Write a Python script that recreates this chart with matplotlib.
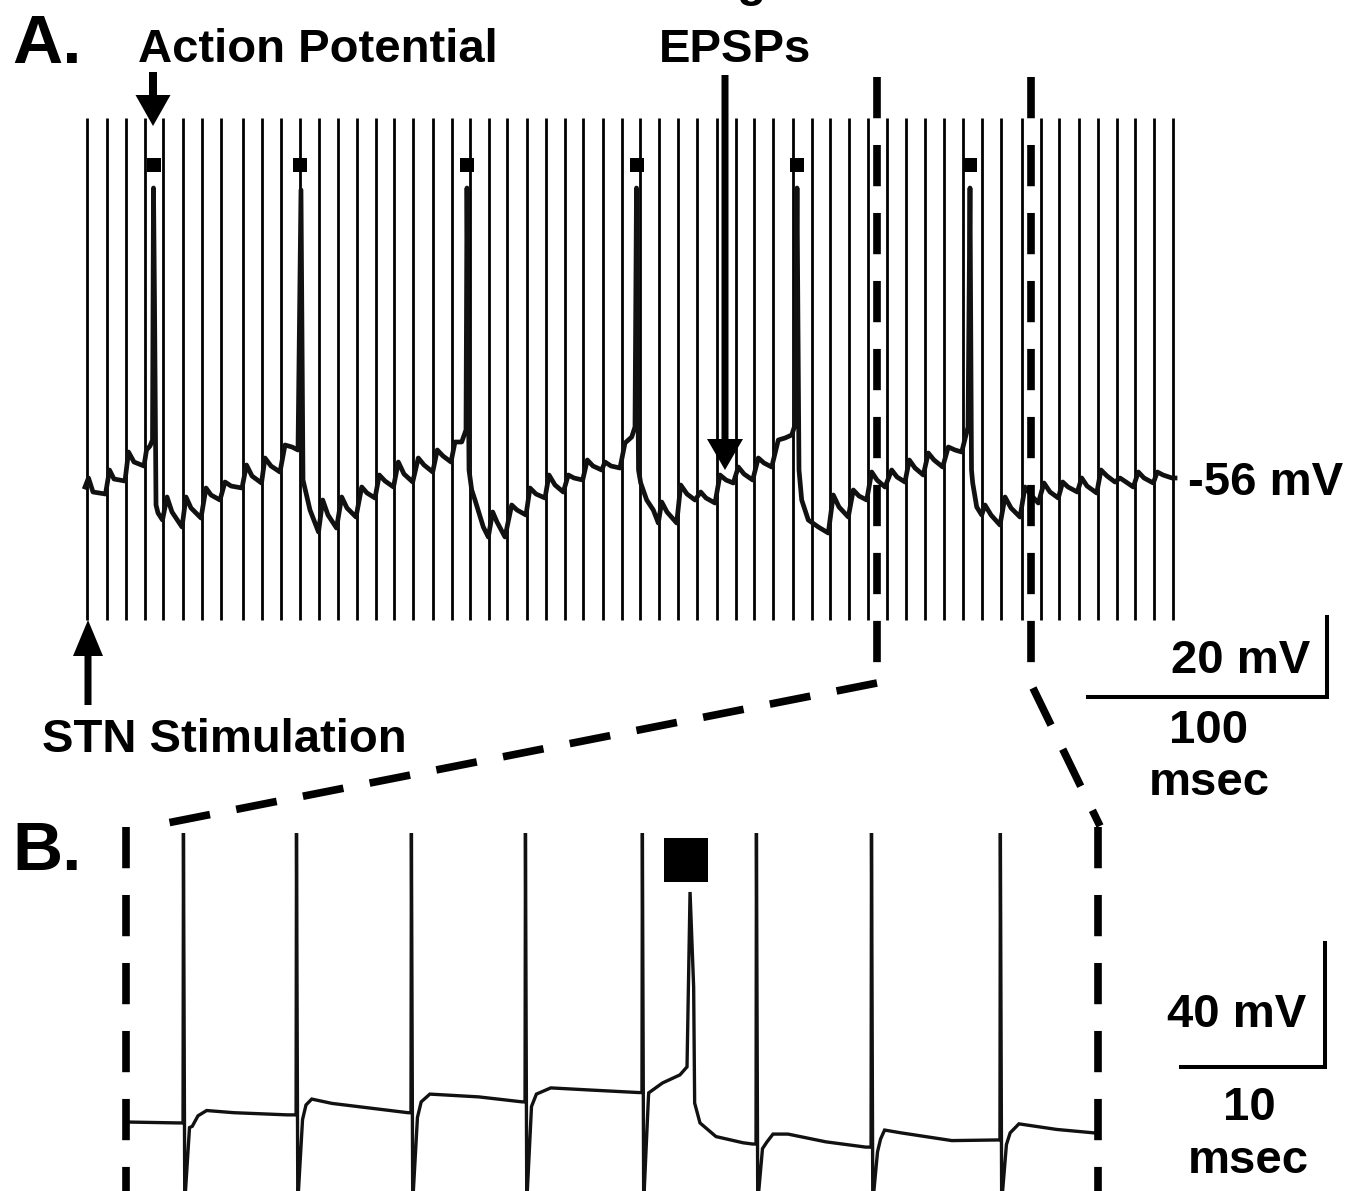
import matplotlib.pyplot as plt
from matplotlib.patches import FancyArrow

plt.rcParams['font.family'] = ['Liberation Sans', 'DejaVu Sans']
plt.rcParams['font.weight'] = 'bold'

W, H = 1358, 1191

# ---------------- Panel A: long recording (ms, mV) ----------------
a_stim_ms = [0.0, 8.1, 16.1, 24.1, 31.8, 39.9, 47.9, 55.8, 65.3, 73.2,
             81.0, 89.0, 96.9, 104.8, 112.7, 120.7, 128.5, 136.4, 144.8, 152.5,
             160.1, 168.1, 175.7, 183.8, 191.8, 199.9, 207.5, 215.9, 223.6, 231.3,
             239.2, 247.3, 255.0, 263.3, 271.3, 279.0, 287.0, 295.4, 303.1, 310.8,
             318.8, 326.8, 334.5, 342.6, 350.5, 358.5, 366.5, 374.5, 382.3, 391.0,
             398.9, 406.7, 414.8, 422.8, 430.7, 438.4, 446.4, 454.4]
a_art_top, a_art_bottom = 34.25, -91.25

# membrane trace (time ms, potential mV)
a_trace = [
    (-0.96, -58.0), (0.50, -55.75), (2.38, -59.25), (7.62, -59.75),
    (9.29, -53.75), (11.17, -56.0), (15.77, -56.5),
    (17.24, -49.25), (19.54, -51.75), (23.72, -52.75),
    (24.77, -48.75), (26.23, -47.75), (27.28, -46.25), (27.70, 16.75),
    (28.12, -11.25), (28.75, -62.5), (29.58, -64.5), (31.47, -66.25),
    (33.35, -60.5), (35.44, -64.25), (39.62, -68.0),
    (41.30, -60.5), (43.39, -63.25), (47.57, -65.75),
    (49.67, -58.25), (51.76, -60.0), (55.52, -61.25),
    (57.62, -56.75), (60.13, -57.75), (64.73, -58.25),
    (66.61, -52.5), (68.91, -55.25), (72.89, -57.0),
    (74.35, -50.75), (76.86, -52.75), (80.63, -54.25),
    (82.72, -47.5), (85.65, -48.0), (88.16, -48.75), (89.41, 16.25),
    (90.25, -56.25), (93.18, -63.75), (95.27, -67.0), (96.74, -69.25),
    (98.49, -61.25), (100.71, -65.0), (104.27, -68.25),
    (106.44, -60.5), (108.66, -63.25), (112.43, -65.5),
    (114.81, -58.0), (117.03, -59.5), (120.38, -60.75),
    (122.18, -55.0), (124.56, -56.5), (128.12, -58.0),
    (130.13, -51.75), (132.51, -54.75), (136.15, -56.75),
    (138.49, -50.75), (140.88, -52.5), (144.52, -54.25),
    (146.44, -48.75), (148.83, -50.25), (152.18, -51.75),
    (153.85, -46.75), (156.65, -46.75), (158.45, -43.75), (158.87, 16.75),
    (159.71, -53.75), (160.84, -58.75), (162.22, -61.25), (165.69, -68.0), (167.78, -70.5),
    (169.62, -64.25), (171.42, -66.75), (174.77, -70.5),
    (177.57, -62.5), (179.79, -63.75), (183.56, -65.0),
    (185.23, -58.25), (187.74, -59.75), (191.51, -60.75),
    (193.18, -55.0), (195.69, -57.5), (199.16, -59.25),
    (201.26, -55.0), (203.64, -55.75), (207.28, -56.25),
    (209.21, -51.25), (211.59, -52.75), (215.23, -53.75),
    (216.61, -51.75), (219.12, -52.75), (222.89, -53.25),
    (224.98, -47.0), (227.78, -45.5), (229.16, -43.0), (229.79, 16.75),
    (230.63, -53.75), (231.55, -57.0), (234.06, -61.25), (236.82, -63.75), (238.91, -67.0),
    (240.34, -61.75), (242.55, -64.25), (246.61, -67.0),
    (248.29, -57.5), (250.92, -59.75), (254.27, -61.25),
    (256.65, -59.25), (258.87, -60.75), (262.64, -62.0),
    (264.73, -55.0), (267.24, -56.25), (270.29, -57.0),
    (272.39, -53.0), (274.77, -54.75), (278.41, -56.25),
    (280.75, -50.75), (283.14, -52.0), (286.36, -53.0),
    (289.12, -46.25), (291.93, -45.75), (294.73, -45.0), (296.11, -42.5), (296.95, 16.75),
    (297.78, -53.75), (298.91, -61.25), (301.67, -66.25), (305.86, -68.0), (310.04, -69.5),
    (312.13, -60.0), (314.52, -63.0), (318.41, -65.5),
    (320.50, -58.75), (322.89, -60.25), (326.11, -61.25),
    (328.20, -54.25), (330.42, -56.25), (333.77, -58.0),
    (336.57, -53.75), (338.79, -55.5), (342.13, -56.75),
    (343.93, -51.25), (346.32, -53.25), (349.79, -55.0),
    (351.88, -49.5), (354.27, -51.25), (357.91, -53.0),
    (360.25, -48.0), (363.06, -48.75), (365.86, -49.25), (368.50, -43.0), (369.33, 16.75),
    (369.96, -53.75), (370.46, -57.0), (372.14, -63.0), (374.23, -65.0),
    (375.61, -62.5), (378.12, -65.0), (381.88, -67.5),
    (383.98, -60.5), (386.49, -63.25), (390.25, -65.5),
    (392.35, -58.0), (394.86, -60.0), (397.91, -62.0),
    (400.30, -57.0), (402.81, -59.25), (406.28, -60.75),
    (408.12, -56.75), (410.34, -58.0), (414.23, -59.25),
    (416.07, -55.75), (418.29, -57.75), (422.35, -59.5),
    (424.15, -53.75), (426.66, -55.25), (430.00, -56.75),
    (432.09, -55.75), (434.61, -56.75), (437.66, -58.0),
    (439.75, -54.25), (442.14, -55.75), (446.03, -57.0),
    (447.70, -54.25), (450.09, -55.0), (453.85, -55.75), (455.11, -55.75),
]
a_spike_ms = [27.7, 89.0, 158.9, 229.8, 297.0, 369.3]
a_marker_mv = 22.5
a_rest_mv = -56
zoom_window_ms = [330.4, 394.9]

# ---------------- Panel B: expanded window (ms, mV) ----------------
b_stim_ms = [3.96, 11.81, 19.79, 27.71, 35.83, 43.75, 51.74, 60.69]
b_art_top, b_art_bottom, b_art_dip = 39.2, -80.0, -1.5
b_trace = [
    (0.0, -54.0), (3.61, -54.3),
    (4.6, -55.4), (5.0, -52.0), (5.6, -50.3), (7.5, -51.0), (11.2, -51.7),
    (12.5, -48.5), (12.9, -46.6), (14.3, -48.0), (19.58, -51.0),
    (20.5, -47.5), (21.1, -45.0), (24.5, -45.9), (27.5, -47.5),
    (28.5, -45.0), (29.5, -43.0), (32.3, -43.7), (35.6, -44.5),
    (36.3, -44.6), (37.26, -41.4), (38.47, -38.8), (38.96, -36.2),
    (39.17, 20.2), (39.42, -10.4), (39.49, -47.9), (39.86, -54.3),
    (40.97, -58.7), (42.85, -60.7), (43.51, -61.1),
    (44.5, -60.5), (44.93, -57.9), (45.97, -57.9), (48.6, -60.4), (51.37, -62.1),
    (52.4, -59.5), (52.68, -56.6), (53.82, -57.5), (57.35, -60.0), (60.4, -59.8),
    (61.4, -57.5), (62.01, -54.6), (64.63, -56.4), (67.2, -57.5),
]
b_marker = (38.92, 30.5)
b_window_ms = [0.0, 67.5]

# ---------------- figure ----------------
fig = plt.figure(figsize=(W / 100, H / 100), dpi=100)
fig.patch.set_facecolor('white')


def full_axes(x0_px, px_per_x, y0_px, px_per_y, x0, y0):
    """Axes over the whole figure; (x0, y0) sits at pixel (x0_px, y0_px from top)."""
    ax = fig.add_axes([0, 0, 1, 1])
    ax.set_xlim(x0 - x0_px / px_per_x, x0 + (W - x0_px) / px_per_x)
    ax.set_ylim(y0 - (H - y0_px) / px_per_y, y0 + y0_px / px_per_y)
    ax.set_axis_off()
    ax.patch.set_facecolor('none')
    return ax


axA = full_axes(87.3, 2.39, 479, 4.0, 0.0, a_rest_mv)
axB = full_axes(126, 14.4, 1122, 3.1, 0.0, -54.0)
ov = fig.add_axes([0, 0, 1, 1])
ov.set_xlim(0, W)
ov.set_ylim(H, 0)
ov.set_axis_off()
ov.patch.set_facecolor('none')

dash = dict(color='black', lw=5.5, ls=(0, (5.4, 3.5)), dash_capstyle='butt')

# --- panel A ---
axA.vlines(a_stim_ms, a_art_bottom, a_art_top, color='black', lw=2.0)
ta, va = zip(*a_trace)
axA.plot(ta, va, color='#111111', lw=3.4, solid_joinstyle='round')
axA.plot(a_spike_ms, [a_marker_mv] * len(a_spike_ms), 's', color='black',
         ms=9.5, mew=0)
for t in zoom_window_ms:
    axA.plot([t, t], [44.5, -102.5], **dash)

# scale bar A: 100 ms / 20 mV
sx, sy = 518.7, -110.4
axA.plot([sx - 100, sx, sx], [sy, sy, sy + 20], color='black', lw=2.9,
         solid_joinstyle='miter')

# --- panel B: trace with stimulus artifacts inserted ---
pts = list(b_trace)
for ts in b_stim_ms:
    prev = [p for p in b_trace if p[0] < ts][-1][1]
    pts += [(ts, prev), (ts + 0.03, b_art_top), (ts + 0.12, b_art_bottom),
            (ts + 0.45, prev + b_art_dip)]
pts.sort()
bt, bv = zip(*pts)
axB.plot(bt, bv, color='#111111', lw=2.4, solid_joinstyle='miter')
axB.plot(*b_marker, 's', color='black', ms=32, mew=0)
for t in b_window_ms:
    axB.plot([t, t], [41.2, -80], **dash)

# scale bar B: 10 ms / 40 mV
sx, sy = 83.25, -36.16
axB.plot([sx - 10, sx, sx], [sy, sy, sy + 40], color='black', lw=2.9,
         solid_joinstyle='miter')

# --- connectors from A window to B ---
ov.plot([877, 152], [683, 826], **dash)
ov.plot([1033, 1100], [688, 826], **dash)

# --- arrows ---
ov.add_patch(FancyArrow(153, 72, 0, 54, width=8, head_width=35, head_length=31,
                        length_includes_head=True, color='black', lw=0))
ov.add_patch(FancyArrow(725, 75, 0, 395, width=7, head_width=36, head_length=31,
                        length_includes_head=True, color='black', lw=0))
ov.add_patch(FancyArrow(88, 705, 0, -85, width=7, head_width=30, head_length=36,
                        length_includes_head=True, color='black', lw=0))

# --- text ---
lab = dict(fontsize=34, fontweight='bold', va='baseline', color='black')
ov.text(12, 63, 'A.', fontsize=50, fontweight='bold', va='baseline')
ov.text(12, 870, 'B.', fontsize=50, fontweight='bold', va='baseline')
ov.text(138, 62, 'Action Potential', ha='left', **lab)
ov.text(767, -4, 'Summating', ha='right', **lab)
ov.text(735, 62, 'EPSPs', ha='center', **lab)
ov.text(1188, 495, '-56 mV', ha='left', **lab)
ov.text(42, 752, 'STN Stimulation', ha='left', **lab)
ov.text(1310, 673, '20 mV', ha='right', **lab)
ov.text(1209, 743, '100', ha='center', **lab)
ov.text(1209, 795, 'msec', ha='center', **lab)
ov.text(1306, 1027, '40 mV', ha='right', **lab)
ov.text(1249, 1120, '10', ha='center', **lab)
ov.text(1248, 1173, 'msec', ha='center', **lab)

fig.savefig('out.png', dpi=100, facecolor='white')
